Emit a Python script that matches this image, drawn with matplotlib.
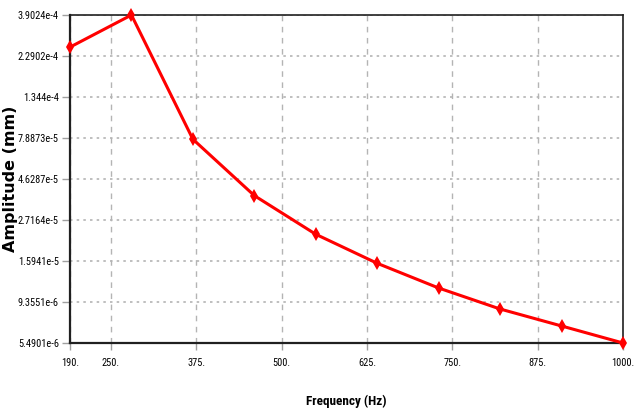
import matplotlib
matplotlib.use("Agg")
import matplotlib.pyplot as plt
from matplotlib import font_manager
from matplotlib.font_manager import FontProperties
from matplotlib.ticker import NullLocator

frequency = [190, 280, 370, 460, 550, 640, 730, 820, 910, 1000]
amplitude = [2.57e-4, 3.9024e-4, 7.76e-5, 3.73e-5, 2.256e-5, 1.547e-5,
             1.122e-5, 8.54e-6, 6.85e-6, 5.4901e-6]

x_ticks = [190, 250, 375, 500, 625, 750, 875, 1000]
x_tick_labels = ["190.", "250.", "375.", "500.", "625.", "750.", "875.", "1000."]
y_ticks = [5.4901e-6, 9.3551e-6, 1.5941e-5, 2.7164e-5, 4.6287e-5,
           7.8873e-5, 1.344e-4, 2.2902e-4, 3.9024e-4]
y_tick_labels = ["5.4901e-6", "9.3551e-6", "1.5941e-5", "2.7164e-5", "4.6287e-5",
                 "7.8873e-5", "1.344e-4", "2.2902e-4", "3.9024e-4"]


def find_font(candidates, size, weight="normal"):
    files = {f.fname.split("/")[-1].lower(): f.fname for f in font_manager.fontManager.ttflist}
    for c in candidates:
        if c.lower() in files:
            return FontProperties(fname=files[c.lower()], size=size)
    return FontProperties(family="DejaVu Sans", stretch="condensed", weight=weight, size=size)


tick_fp = find_font(["LiberationSansNarrow-Regular.ttf", "RobotoCondensed-Regular.ttf",
                     "NotoSans-Condensed.ttf", "DejaVuSansCondensed.ttf"], 7.5)
xlab_fp = find_font(["LiberationSansNarrow-Bold.ttf", "RobotoCondensed-Bold.ttf",
                     "NotoSans-CondensedBold.ttf", "DejaVuSansCondensed-Bold.ttf"], 9.5, "bold")
ylab_fp = FontProperties(family="DejaVu Sans", weight="bold", size=11.5)

fig = plt.figure(figsize=(6.36, 4.16), dpi=100)
ax = fig.add_axes([70/636, 1-343/416, (623-70)/636, (343-15)/416])

ax.plot(frequency, amplitude, color="#ff0000", lw=2.2, marker="d",
        markersize=7, markeredgewidth=0, zorder=5, clip_on=False)

ax.set_yscale("log")
ax.set_xlim(190, 1000)
ax.set_ylim(5.4901e-6, 3.9024e-4)
ax.set_xticks(x_ticks)
ax.set_xticklabels(x_tick_labels, fontproperties=tick_fp)
ax.set_yticks(y_ticks)
ax.set_yticklabels(y_tick_labels, fontproperties=tick_fp)
ax.yaxis.set_minor_locator(NullLocator())

ax.tick_params(axis="y", direction="out", length=6, width=1,
               color="#a0a0a0", pad=2)
ax.tick_params(axis="x", direction="out", length=5, width=1,
               color="#a0a0a0", pad=6)

ax.xaxis.grid(True, color="#b4b4b4", linestyle=(0, (4, 4)), lw=1)
ax.yaxis.grid(True, color="#b4b4b4", linestyle=(0, (1.5, 2.5)), lw=1.2)
ax.set_axisbelow(True)

for s in ax.spines.values():
    s.set_color("#202020")
    s.set_linewidth(1.2)
ax.spines["left"].set_linewidth(1.6)
ax.spines["bottom"].set_linewidth(1.6)

ax.set_xlabel("Frequency (Hz)", fontproperties=xlab_fp, labelpad=19)
ax.set_ylabel("Amplitude (mm)", fontproperties=ylab_fp)
ax.yaxis.set_label_coords((18 - 70) / 553, 0.5)

fig.savefig("out.png", dpi=100)
